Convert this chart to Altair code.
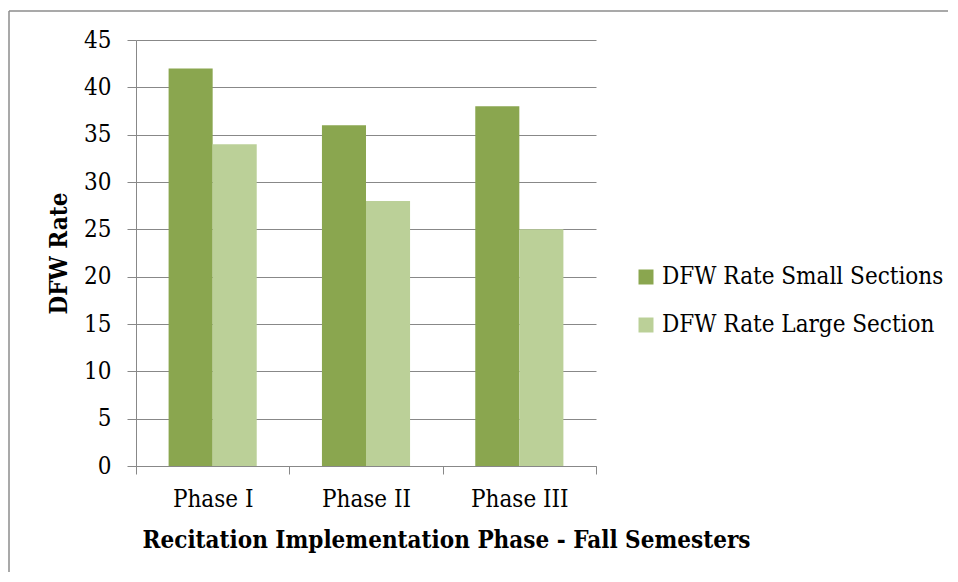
import altair as alt
import pandas as pd

phases = ["Phase I", "Phase II", "Phase III"]
series = ["DFW Rate Small Sections", "DFW Rate Large Section"]
small = [42, 36, 38]
large = [34, 28, 25]
colors = ["#8AA64F", "#BBD098"]

rows = []
for i, p in enumerate(phases):
    rows.append({"phase": p, "series": series[0], "value": small[i]})
    rows.append({"phase": p, "series": series[1], "value": large[i]})
df = pd.DataFrame(rows)

FONT = "DejaVu Serif Condensed"
FS = 24

bars = alt.Chart(df).mark_bar().encode(
    x=alt.X("phase:N", sort=phases,
            scale=alt.Scale(paddingInner=0, paddingOuter=0),
            axis=alt.Axis(title="Recitation Implementation Phase - Fall Semesters",
                          labelAngle=0, tickBand="extent", tickSize=8,
                          tickColor="#888888", domainColor="#888888",
                          labelPadding=13,
                          titleX=310, titleY=74, titleAlign="center",
                          titleAnchor="start", titleBaseline="middle",
                          labelFontSize=FS, titleFontSize=FS,
                          labelFont=FONT, titleFont=FONT, titleFontWeight="bold",
                          labelColor="#000000", titleColor="#000000", grid=False)),
    xOffset=alt.XOffset("series:N", sort=series,
                        scale=alt.Scale(paddingOuter=0.74, paddingInner=0)),
    y=alt.Y("value:Q", scale=alt.Scale(domain=[0, 45], nice=False),
            axis=alt.Axis(title="DFW Rate", values=list(range(0, 50, 5)),
                          tickSize=9, tickColor="#888888", domainColor="#888888",
                          gridColor="#888888", gridWidth=1,
                          labelPadding=16, titlePadding=12,
                          labelFontSize=FS, titleFontSize=FS,
                          labelFont=FONT, titleFont=FONT, titleFontWeight="bold",
                          labelColor="#000000", titleColor="#000000")),
    color=alt.Color("series:N", sort=series,
                    scale=alt.Scale(domain=series, range=colors),
                    legend=alt.Legend(title=None, orient="none", legendX=498, legendY=225,
                                      symbolType="square", symbolSize=225,
                                      symbolStrokeWidth=0,
                                      labelFontSize=FS, labelFont=FONT,
                                      labelColor="#000000", rowPadding=24,
                                      labelOffset=4, labelLimit=400)),
)

frame = pd.DataFrame({"a": [0]})
top_line = alt.Chart(frame).mark_rule(stroke="#8C8C8C", strokeWidth=1.5).encode(
    x=alt.value(-127), x2=alt.value(820), y=alt.value(-29),
)
left_line = alt.Chart(frame).mark_rule(stroke="#8C8C8C", strokeWidth=1.5).encode(
    x=alt.value(-127), y=alt.value(-29), y2=alt.value(560),
)

chart = alt.layer(top_line, left_line, bars).properties(
    width=460, height=426,
    autosize=alt.AutoSizeParams(type="none"),
    padding={"left": 128, "top": 32, "right": 352, "bottom": 106},
).configure_view(stroke=None)

chart.save("out.html", embed_options={"renderer": "svg", "actions": False})
